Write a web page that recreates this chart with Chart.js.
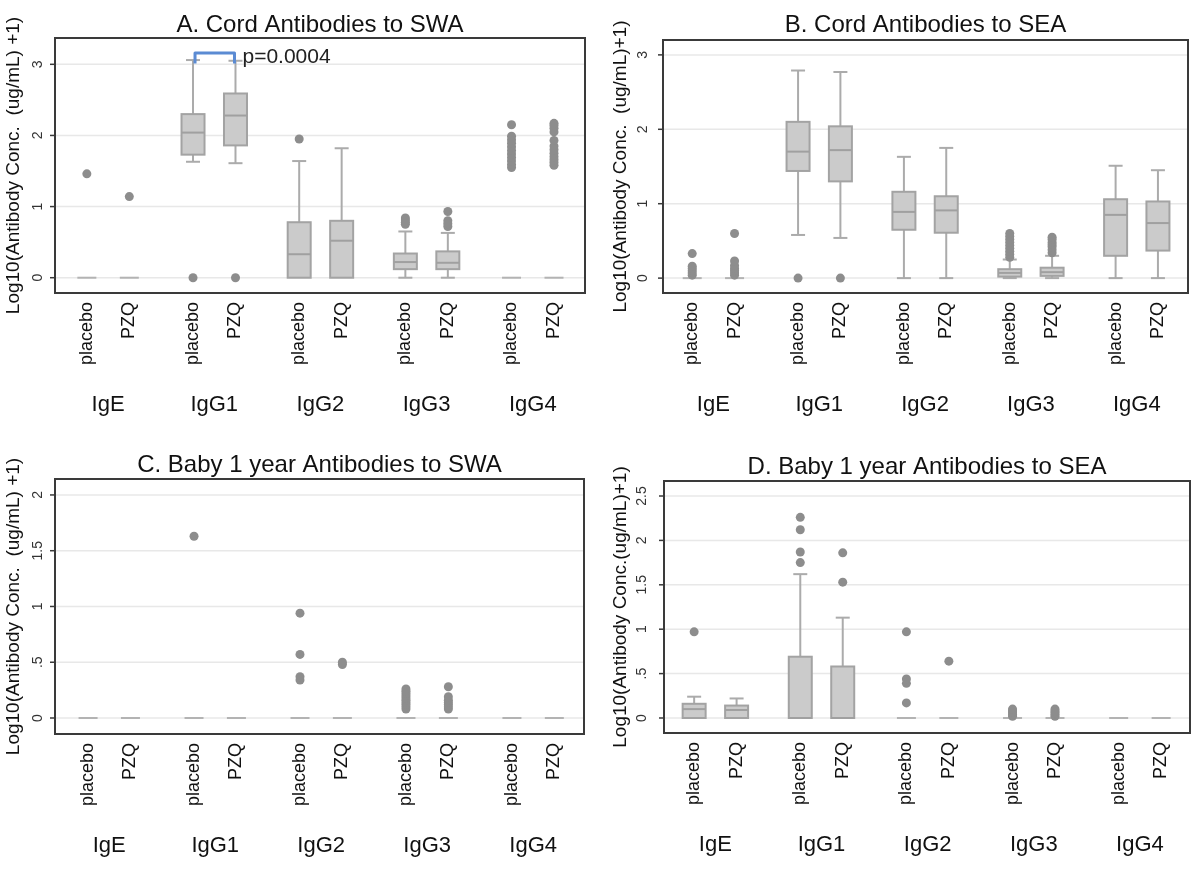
<!DOCTYPE html>
<html>
<head>
<meta charset="utf-8">
<title>Cord and baby antibodies</title>
<script src="https://cdn.jsdelivr.net/npm/chart.js@4.4.1/dist/chart.umd.min.js"></script>
<style>
  html, body { margin: 0; padding: 0; background: #fff; }
  #wrap { position: relative; width: 1200px; height: 874px; }
  .panel { position: absolute; width: 600px; height: 437px; }
</style>
</head>
<body>
<div id="wrap">
  <div class="panel" style="left:0;top:0"><canvas id="chartA" width="600" height="437"></canvas></div>
  <div class="panel" style="left:600px;top:0"><canvas id="chartB" width="600" height="437"></canvas></div>
  <div class="panel" style="left:0;top:437px"><canvas id="chartC" width="600" height="437"></canvas></div>
  <div class="panel" style="left:600px;top:437px"><canvas id="chartD" width="600" height="437"></canvas></div>
</div>
<script>
/* global Chart */
'use strict';

const groups = ['IgE', 'IgG1', 'IgG2', 'IgG3', 'IgG4'];
const treatments = ['placebo', 'PZQ'];

// one entry per group x treatment: [lower whisker, q1, median, q3, upper whisker]
const cordSwaBoxes = [
  [0, 0, 0, 0, 0], [0, 0, 0, 0, 0],
  [1.63, 1.73, 2.04, 2.30, 3.06], [1.61, 1.86, 2.28, 2.59, 3.05],
  [0, 0, 0.33, 0.78, 1.64], [0, 0, 0.52, 0.80, 1.82],
  [0, 0.12, 0.22, 0.34, 0.65], [0, 0.12, 0.21, 0.37, 0.63],
  [0, 0, 0, 0, 0], [0, 0, 0, 0, 0]
];
const cordSwaOutliers = [
  [1.46], [1.14],
  [0], [0],
  [1.95], [],
  [0.75, 0.78, 0.81, 0.84], [0.72, 0.76, 0.80, 0.93],
  [1.55, 1.59, 1.64, 1.69, 1.74, 1.79, 1.84, 1.89, 1.94, 1.99, 2.15],
  [1.58, 1.62, 1.66, 1.70, 1.75, 1.80, 1.85, 1.93, 2.05, 2.10, 2.14, 2.17]
];

const cordSeaBoxes = [
  [0, 0, 0, 0, 0], [0, 0, 0, 0, 0],
  [0.58, 1.44, 1.70, 2.10, 2.79], [0.54, 1.30, 1.72, 2.04, 2.77],
  [0, 0.65, 0.89, 1.16, 1.63], [0, 0.61, 0.91, 1.10, 1.75],
  [0, 0.02, 0.07, 0.12, 0.25], [0, 0.03, 0.08, 0.14, 0.30],
  [0, 0.30, 0.85, 1.06, 1.51], [0, 0.37, 0.74, 1.03, 1.45]
];
const cordSeaOutliers = [
  [0.04, 0.07, 0.10, 0.13, 0.16, 0.33], [0.04, 0.07, 0.10, 0.13, 0.17, 0.23, 0.60],
  [0], [0],
  [], [],
  [0.28, 0.32, 0.36, 0.40, 0.44, 0.48, 0.52, 0.56, 0.60],
  [0.34, 0.38, 0.42, 0.45, 0.48, 0.52, 0.55],
  [], []
];

const babySwaBoxes = [
  [0, 0, 0, 0, 0], [0, 0, 0, 0, 0],
  [0, 0, 0, 0, 0], [0, 0, 0, 0, 0],
  [0, 0, 0, 0, 0], [0, 0, 0, 0, 0],
  [0, 0, 0, 0, 0], [0, 0, 0, 0, 0],
  [0, 0, 0, 0, 0], [0, 0, 0, 0, 0]
];
const babySwaOutliers = [
  [], [],
  [1.63], [],
  [0.34, 0.37, 0.57, 0.94], [0.48, 0.50],
  [0.08, 0.10, 0.12, 0.14, 0.16, 0.18, 0.20, 0.22, 0.24, 0.26],
  [0.08, 0.10, 0.12, 0.14, 0.16, 0.19, 0.28],
  [], []
];

const babySeaBoxes = [
  [0, 0, 0.10, 0.16, 0.24], [0, 0, 0.09, 0.14, 0.22],
  [0, 0, 0, 0.69, 1.62], [0, 0, 0, 0.58, 1.13],
  [0, 0, 0, 0, 0], [0, 0, 0, 0, 0],
  [0, 0, 0, 0, 0], [0, 0, 0, 0, 0],
  [0, 0, 0, 0, 0], [0, 0, 0, 0, 0]
];
const babySeaOutliers = [
  [0.97], [],
  [1.75, 1.87, 2.12, 2.26], [1.53, 1.86],
  [0.17, 0.39, 0.44, 0.97], [0.64],
  [0.02, 0.04, 0.06, 0.08, 0.10], [0.02, 0.04, 0.06, 0.08, 0.10],
  [], []
];

const cordTicks = [0, 1, 2, 3];
const cordTickLabels = ['0', '1', '2', '3'];
const babySwaTicks = [0, 0.5, 1, 1.5, 2];
const babySwaTickLabels = ['0', '.5', '1', '1.5', '2'];
const babySeaTicks = [0, 0.5, 1, 1.5, 2, 2.5];
const babySeaTickLabels = ['0', '.5', '1', '1.5', '2', '2.5'];

// significance bracket between IgG1 placebo and PZQ (panel A)
const cordSwaBracket = [3.01, 3.16];
const cordSwaPValue = 'p=0.0004';

const GROUP_STEP = 2.5;
const BOX_HALF = 11.5;
const CAP_HALF = 7;
const FONT = "'Liberation Sans', Arial, Helvetica, sans-serif";

const panels = [
  {
    id: 'chartA',
    title: 'A. Cord Antibodies to SWA',
    yTitle: 'Log10(Antibody Conc.  (ug/mL) +1)',
    boxes: cordSwaBoxes, outliers: cordSwaOutliers,
    ticks: cordTicks, tickLabels: cordTickLabels,
    padding: { left: 55, right: 15, top: 38, bottom: 144 },
    xRange: [-0.75, 11.73], yRange: [-0.215, 3.37],
    titleY: 25, yTitleX: 14, tickGap: 17,
    bracket: cordSwaBracket, pValue: cordSwaPValue
  },
  {
    id: 'chartB',
    title: 'B. Cord Antibodies to SEA',
    yTitle: 'Log10(Antibody Conc.  (ug/mL)+1)',
    boxes: cordSeaBoxes, outliers: cordSeaOutliers,
    ticks: cordTicks, tickLabels: cordTickLabels,
    padding: { left: 63, right: 12, top: 40, bottom: 144 },
    xRange: [-0.69, 11.71], yRange: [-0.2, 3.2],
    titleY: 25, yTitleX: 21, tickGap: 20
  },
  {
    id: 'chartC',
    title: 'C. Baby 1 year Antibodies to SWA',
    yTitle: 'Log10(Antibody Conc.  (ug/mL) +1)',
    boxes: babySwaBoxes, outliers: babySwaOutliers,
    ticks: babySwaTicks, tickLabels: babySwaTickLabels,
    padding: { left: 55, right: 16, top: 42, bottom: 140 },
    xRange: [-0.78, 11.7], yRange: [-0.1435, 2.143],
    titleY: 28, yTitleX: 14, tickGap: 17
  },
  {
    id: 'chartD',
    title: 'D. Baby 1 year Antibodies to SEA',
    yTitle: 'Log10(Antibody Conc.(ug/mL)+1)',
    boxes: babySeaBoxes, outliers: babySeaOutliers,
    ticks: babySeaTicks, tickLabels: babySeaTickLabels,
    padding: { left: 64, right: 10, top: 44, bottom: 141 },
    xRange: [-0.71, 11.68], yRange: [-0.169, 2.669],
    titleY: 30, yTitleX: 21, tickGap: 22
  }
];

panels.forEach(makeChart);

function boxX(index) {
  return Math.floor(index / 2) * GROUP_STEP + (index % 2);
}

function outlierPoints(outliers) {
  const points = [];
  outliers.forEach(function (values, i) {
    values.forEach(function (v) { points.push({ x: boxX(i), y: v }); });
  });
  return points;
}

function makeChart(panel) {
  new Chart(document.getElementById(panel.id), {
    type: 'scatter',
    data: {
      datasets: [{
        data: outlierPoints(panel.outliers),
        pointRadius: 4.5,
        pointBackgroundColor: '#8d8d8d',
        pointBorderWidth: 0,
        pointHoverRadius: 4.5
      }]
    },
    options: {
      responsive: false,
      animation: false,
      events: [],
      layout: { padding: panel.padding, autoPadding: false },
      plugins: { legend: { display: false }, tooltip: { enabled: false } },
      scales: {
        x: { type: 'linear', display: false, min: panel.xRange[0], max: panel.xRange[1] },
        y: { type: 'linear', display: false, min: panel.yRange[0], max: panel.yRange[1] }
      }
    },
    plugins: [boxPlugin(panel)]
  });
}

function line(ctx, x1, y1, x2, y2) {
  ctx.beginPath();
  ctx.moveTo(x1, y1);
  ctx.lineTo(x2, y2);
  ctx.stroke();
}

function rotatedText(ctx, text, x, y, align) {
  ctx.save();
  ctx.translate(x, y);
  ctx.rotate(-Math.PI / 2);
  ctx.textAlign = align;
  ctx.textBaseline = 'middle';
  ctx.fillText(text, 0, 0);
  ctx.restore();
}

function drawBox(ctx, xs, ys, index, stats) {
  const px = xs.getPixelForValue(boxX(index));
  const lo = ys.getPixelForValue(stats[0]);
  const q1 = ys.getPixelForValue(stats[1]);
  const med = ys.getPixelForValue(stats[2]);
  const q3 = ys.getPixelForValue(stats[3]);
  const hi = ys.getPixelForValue(stats[4]);

  ctx.lineWidth = 2;
  if (stats[4] === stats[0]) {
    ctx.strokeStyle = '#b3b3b3';
    line(ctx, px - BOX_HALF + 2, med, px + BOX_HALF - 2, med);
    return;
  }

  ctx.strokeStyle = '#ababab';
  if (stats[4] > stats[3]) {
    line(ctx, px, q3, px, hi);
    line(ctx, px - CAP_HALF, hi, px + CAP_HALF, hi);
  }
  if (stats[0] < stats[1]) {
    line(ctx, px, q1, px, lo);
    line(ctx, px - CAP_HALF, lo, px + CAP_HALF, lo);
  }

  if (stats[3] > stats[1]) {
    ctx.fillStyle = '#cbcbcb';
    ctx.fillRect(px - BOX_HALF, q3, BOX_HALF * 2, q1 - q3);
    ctx.strokeStyle = '#a3a3a3';
    ctx.strokeRect(px - BOX_HALF, q3, BOX_HALF * 2, q1 - q3);
  }
  ctx.strokeStyle = '#a0a0a0';
  line(ctx, px - BOX_HALF, med, px + BOX_HALF, med);
}

function boxPlugin(panel) {
  return {
    id: 'boxplot',
    beforeDatasetsDraw: function (chart) {
      const ctx = chart.ctx;
      const a = chart.chartArea;
      const xs = chart.scales.x;
      const ys = chart.scales.y;

      ctx.save();
      ctx.strokeStyle = '#e8e8e8';
      ctx.lineWidth = 1.5;
      panel.ticks.forEach(function (v) {
        const py = ys.getPixelForValue(v);
        line(ctx, a.left, py, a.right, py);
      });

      panel.boxes.forEach(function (stats, i) { drawBox(ctx, xs, ys, i, stats); });

      if (panel.bracket) {
        const x1 = xs.getPixelForValue(boxX(2)) + 2;
        const x2 = xs.getPixelForValue(boxX(3)) - 1;
        const yLow = ys.getPixelForValue(panel.bracket[0]);
        const yTop = ys.getPixelForValue(panel.bracket[1]);
        ctx.strokeStyle = '#5b8bd3';
        ctx.lineWidth = 3;
        ctx.lineJoin = 'round';
        ctx.beginPath();
        ctx.moveTo(x1, yLow);
        ctx.lineTo(x1, yTop);
        ctx.lineTo(x2, yTop);
        ctx.lineTo(x2, yLow);
        ctx.stroke();
      }
      ctx.restore();
    },
    afterDraw: function (chart) {
      const ctx = chart.ctx;
      const a = chart.chartArea;
      const xs = chart.scales.x;
      const ys = chart.scales.y;

      ctx.save();
      ctx.strokeStyle = '#3a3a3a';
      ctx.lineWidth = 2;
      ctx.strokeRect(a.left, a.top, a.right - a.left, a.bottom - a.top);

      ctx.lineWidth = 1.5;
      ctx.fillStyle = '#333';
      ctx.font = '14px ' + FONT;
      panel.ticks.forEach(function (v, i) {
        const py = ys.getPixelForValue(v);
        line(ctx, a.left - 5, py, a.left, py);
        rotatedText(ctx, panel.tickLabels[i], a.left - panel.tickGap, py, 'center');
      });

      ctx.fillStyle = '#111';
      ctx.font = '18px ' + FONT;
      panel.boxes.forEach(function (stats, i) {
        rotatedText(ctx, treatments[i % 2], xs.getPixelForValue(boxX(i)), a.bottom + 9, 'right');
      });

      ctx.font = '22px ' + FONT;
      ctx.textAlign = 'center';
      ctx.textBaseline = 'middle';
      groups.forEach(function (g, gi) {
        const cx = xs.getPixelForValue(gi * GROUP_STEP + 0.5);
        ctx.fillText(g, cx, a.bottom + 112);
      });

      ctx.font = '24px ' + FONT;
      ctx.fillText(panel.title, (a.left + a.right) / 2, panel.titleY);

      ctx.font = '19px ' + FONT;
      rotatedText(ctx, panel.yTitle, panel.yTitleX, (a.top + a.bottom) / 2, 'center');

      if (panel.pValue) {
        ctx.font = '21px ' + FONT;
        ctx.textAlign = 'left';
        ctx.fillStyle = '#222';
        ctx.fillText(panel.pValue, xs.getPixelForValue(boxX(3)) + 7,
          ys.getPixelForValue(panel.bracket[1]) + 4);
      }
      ctx.restore();
    }
  };
}
</script>
</body>
</html>
